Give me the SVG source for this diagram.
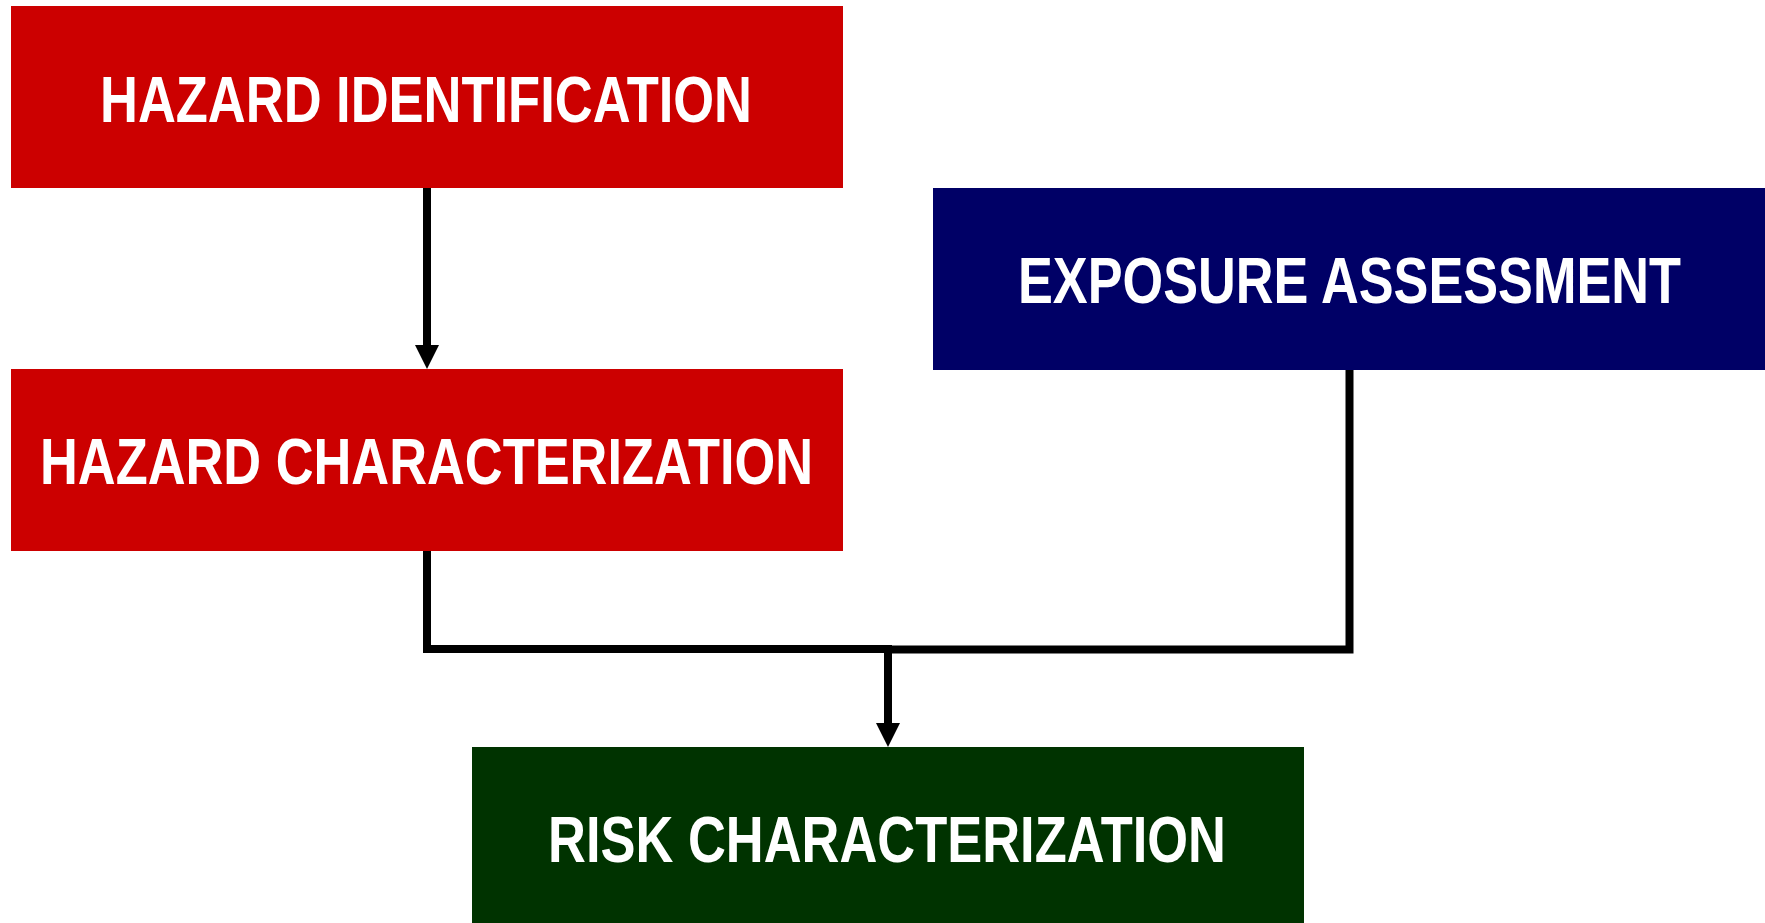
<svg xmlns="http://www.w3.org/2000/svg" width="1765" height="923" viewBox="0 0 1765 923">
  <style>
    .lbl { font-family: "Liberation Sans Narrow", "Liberation Sans", Arial, sans-serif; font-weight: bold; font-size: 64px; fill: #ffffff; text-anchor: middle; }
    .conn { fill: none; stroke: #000000; stroke-width: 8; }
    .head { fill: #000000; stroke: none; }
  </style>
  <rect width="1765" height="923" fill="#ffffff"/>
  <g id="connectors">
    <path class="conn" d="M427,188 V347"/>
    <polygon class="head" points="415,345 439,345 427,369"/>
    <path class="conn" d="M427,551 V649 H888 V725"/>
    <polygon class="head" points="876,723 900,723 888,747"/>
    <path class="conn" d="M1349.5,370 V649.5 H888"/>
  </g>
  <g id="hazard-identification">
    <rect x="11" y="6" width="832" height="182" fill="#cc0000"/>
    <text class="lbl" x="426" y="122" textLength="652" lengthAdjust="spacingAndGlyphs">HAZARD IDENTIFICATION</text>
  </g>
  <g id="exposure-assessment">
    <rect x="933" y="188" width="832" height="182" fill="#000066"/>
    <text class="lbl" x="1349.5" y="303" textLength="663" lengthAdjust="spacingAndGlyphs">EXPOSURE ASSESSMENT</text>
  </g>
  <g id="hazard-characterization">
    <rect x="11" y="369" width="832" height="182" fill="#cc0000"/>
    <text class="lbl" x="426.5" y="484" textLength="773" lengthAdjust="spacingAndGlyphs">HAZARD CHARACTERIZATION</text>
  </g>
  <g id="risk-characterization">
    <rect x="472" y="747" width="832" height="176" fill="#003300"/>
    <text class="lbl" x="887" y="862" textLength="678" lengthAdjust="spacingAndGlyphs">RISK CHARACTERIZATION</text>
  </g>
</svg>
